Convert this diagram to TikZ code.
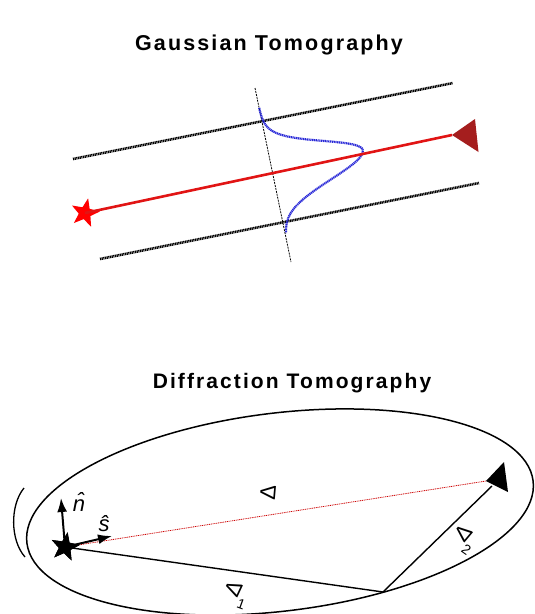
\documentclass[tikz,border=0pt]{standalone}
\usepackage{fontspec}
\setmainfont{Liberation Sans}
\newfontfamily\titlefont[LetterSpace=10]{Liberation Sans}
\usetikzlibrary{shapes.geometric,arrows.meta}
\definecolor{rayred}{RGB}{225,20,20}
\definecolor{tipred}{RGB}{165,30,30}
\definecolor{gblue}{RGB}{40,40,215}
\begin{document}
\begin{tikzpicture}[x=1pt,y=-1pt,
  title/.style={font=\titlefont\bfseries\fontsize{21}{25}\selectfont, anchor=base, inner sep=0},
  starmark/.style={star, star points=5, star point ratio=2.4, minimum size=30, inner sep=0, draw=none},
  thickdots/.style={line width=2.6, dash pattern=on 1.1 off 0.6},
  guide/.style={line width=0.8, dash pattern=on 2 off 1},
  gauss/.style={gblue, line width=2.2, dash pattern=on 1.2 off 0.6},
  ray/.style={rayred, line width=2.6},
  thinray/.style={red!80!black, line width=0.8, dash pattern=on 1 off 0.8},
  edge/.style={line width=1.4},
  lbl/.style={font=\fontsize{22}{26}\selectfont, inner sep=0},
  vec/.style={line width=2, -{Latex[length=14,width=10]}}]
\useasboundingbox (0,0) rectangle (535,614);

% ---------- Gaussian tomography ----------
\node[title, font=\titlefont\bfseries\fontsize{21.5}{25}\selectfont] (t1) at (269,50.7) {Gaussian Tomography};

\coordinate (a1) at (73,159);  \coordinate (a2) at (453,83);
\coordinate (b1) at (100,259); \coordinate (b2) at (479,183);
\draw[thickdots] (a1) -- (a2);
\draw[thickdots] (b1) -- (b2);

\coordinate (g1) at (255,88); \coordinate (g2) at (291,262);
\draw[guide] (g1) -- (g2);

\draw[gauss] plot[domain=-66.6:-4, samples=40, variable=\s]
   ({272.6+0.2026*\s+90.95*exp(-0.5*((\s+4)/17)*((\s+4)/17))},
    {173.2+0.9792*\s-19.33*exp(-0.5*((\s+4)/17)*((\s+4)/17))})
 -- plot[domain=-4:61.5, samples=50, variable=\s]
   ({272.6+0.2026*\s+90.95*exp(-0.5*((\s+4)/22)*((\s+4)/22))},
    {173.2+0.9792*\s-19.33*exp(-0.5*((\s+4)/22)*((\s+4)/22))});

\node[starmark, fill=red, rotate=-12] (s1) at (85,213) {};
\coordinate (r1) at (452,135);
\draw[ray] (s1.center) -- (r1);
\fill[tipred] (r1) -- (475,119) -- (478.5,152) -- cycle;

% ---------- Diffraction tomography ----------
\node[title] (t2) at (292,388) {Diffraction Tomography};

\coordinate (ec) at (280,512);
\draw[line width=1.5, rotate around={7:(ec)}] (ec) ellipse [x radius=255, y radius=99];
\draw[line width=1.3] (24,488) .. controls (10,505) and (10,540) .. (25,557);

\node[starmark, fill=black, rotate=-10] (s2) at (65,547) {};
\coordinate (r2) at (486,481);
\coordinate (p) at (383,592);
\coordinate (q) at (492,486);
\draw[thinray] (s2.center) -- (r2);
\draw[edge] (s2.center) -- (p);
\draw[edge] (p) -- (q);
\fill[black] (r2) -- (504,462) -- (508,492) -- cycle;
\node[starmark, fill=black, rotate=-10] at (s2) {};

\coordinate (ntip) at (61,498);
\coordinate (stip) at (112,536);
\draw[vec] (s2.center) -- (ntip);
\draw[vec] (s2.center) -- (stip);

\node[lbl] (ln) at (79,502) {\itshape\^{n}};
\node[lbl] (ls) at (104,524) {\itshape\^{s}};
\node[lbl] (ld) at (268,493) {\rotatebox{85}{Δ}};
\node[lbl, rotate=-20] (ld1) at (236,594) {\rotatebox{85}{Δ}\raisebox{-0.4em}{\fontsize{14}{14}\selectfont 1}};
\node[lbl, rotate=-35] (ld2) at (464,539) {\rotatebox{85}{Δ}\raisebox{-0.4em}{\fontsize{14}{14}\selectfont 2}};
\end{tikzpicture}
\end{document}
